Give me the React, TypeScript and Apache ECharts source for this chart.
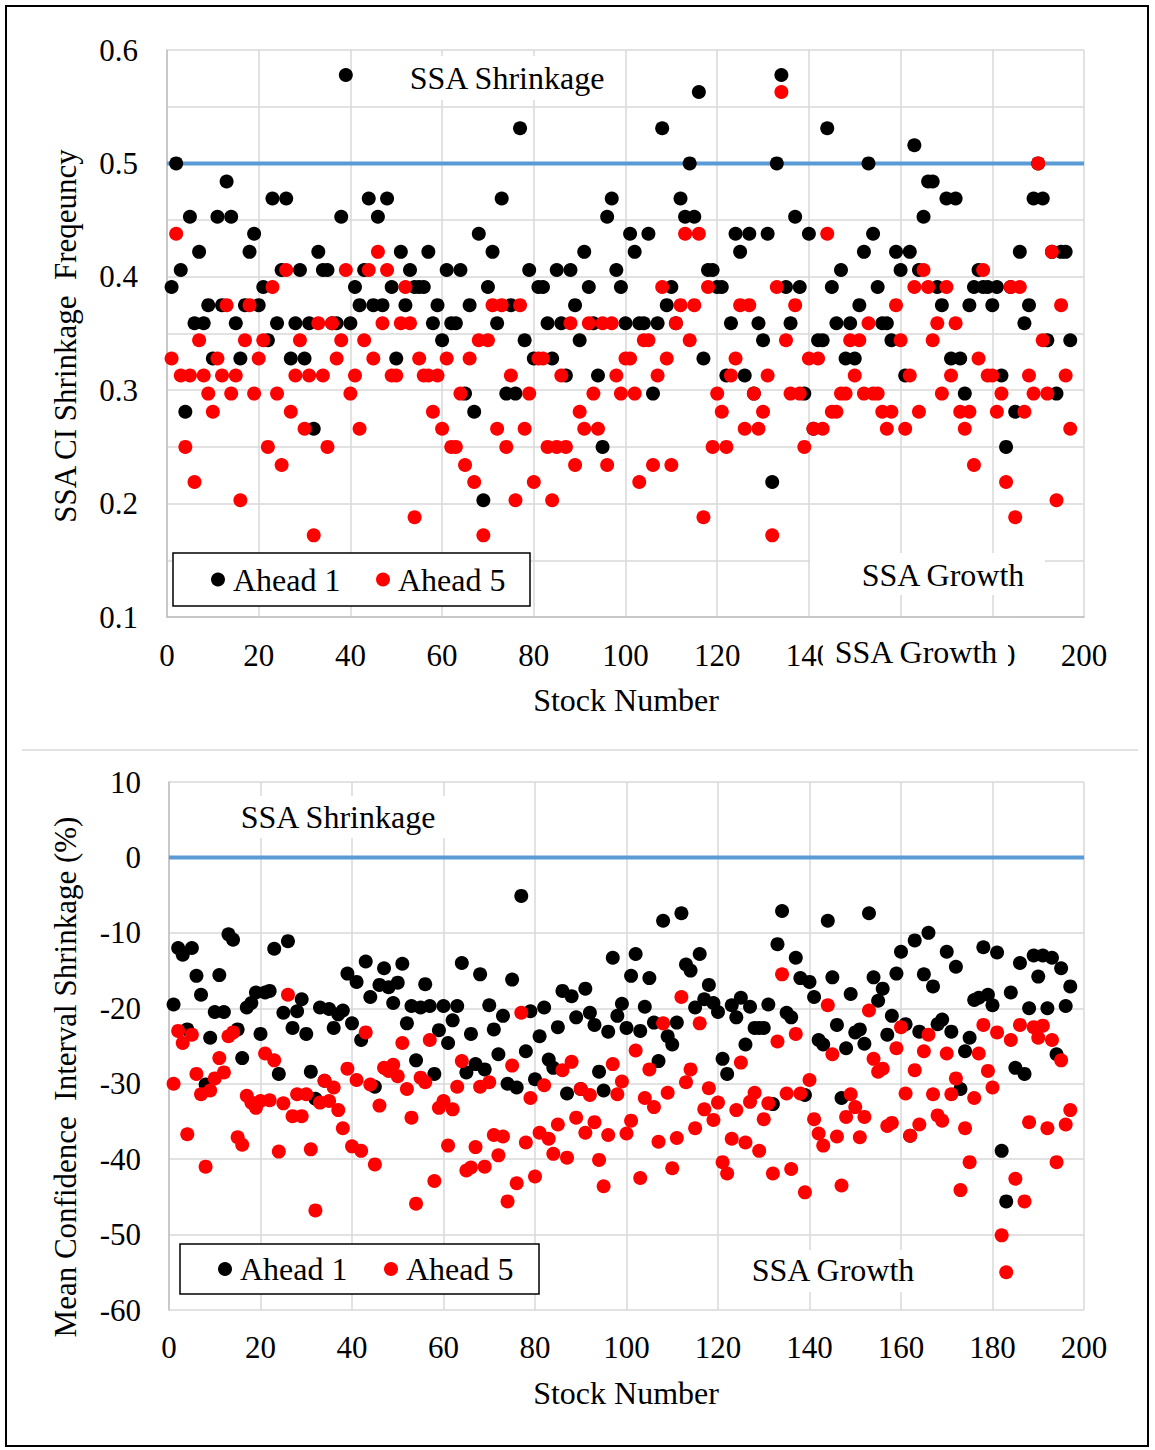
import React, { useEffect, useRef } from "react";
import * as echarts from "echarts";

const FONT = '"Liberation Serif", "Times New Roman", serif';

// Stock numbers run 1..197 (index + 1)
// Top panel: SSA CI shrinkage frequency
const freqAhead1 = [
  0.391, 0.5, 0.406, 0.281, 0.453, 0.359, 0.422, 0.359, 0.375, 0.328,
  0.453, 0.375, 0.484, 0.453, 0.359, 0.328, 0.375, 0.422, 0.438, 0.375,
  0.391, 0.344, 0.469, 0.359, 0.406, 0.469, 0.328, 0.359, 0.406, 0.328,
  0.359, 0.266, 0.422, 0.406, 0.406, 0.359, 0.359, 0.453, 0.578, 0.359,
  0.391, 0.375, 0.406, 0.469, 0.375, 0.453, 0.375, 0.469, 0.391, 0.328,
  0.422, 0.375, 0.406, 0.391, 0.391, 0.391, 0.422, 0.359, 0.375, 0.344,
  0.406, 0.359, 0.359, 0.406, 0.297, 0.375, 0.281, 0.438, 0.203, 0.391,
  0.422, 0.359, 0.469, 0.297, 0.375, 0.297, 0.531, 0.344, 0.406, 0.328,
  0.391, 0.391, 0.359, 0.328, 0.406, 0.359, 0.313, 0.406, 0.375, 0.344,
  0.422, 0.391, 0.359, 0.313, 0.25, 0.453, 0.469, 0.406, 0.391, 0.359,
  0.438, 0.422, 0.359, 0.359, 0.438, 0.297, 0.359, 0.531, 0.375, 0.391,
  0.359, 0.469, 0.453, 0.5, 0.453, 0.563, 0.328, 0.406, 0.406, 0.391,
  0.391, 0.313, 0.359, 0.438, 0.422, 0.313, 0.438, 0.297, 0.359, 0.344,
  0.438, 0.219, 0.5, 0.578, 0.391, 0.359, 0.453, 0.391, 0.297, 0.438,
  0.266, 0.344, 0.344, 0.531, 0.391, 0.359, 0.406, 0.328, 0.359, 0.328,
  0.375, 0.422, 0.5, 0.438, 0.391, 0.359, 0.359, 0.344, 0.422, 0.406,
  0.313, 0.422, 0.516, 0.406, 0.453, 0.484, 0.484, 0.391, 0.375, 0.469,
  0.328, 0.469, 0.328, 0.297, 0.375, 0.391, 0.406, 0.391, 0.391, 0.375,
  0.391, 0.313, 0.25, 0.391, 0.281, 0.422, 0.359, 0.375, 0.469, 0.5,
  0.469, 0.344, 0.422, 0.297, 0.422, 0.422, 0.344,
];
const freqAhead5 = [
  0.328, 0.438, 0.313, 0.25, 0.313, 0.219, 0.344, 0.313, 0.297, 0.281,
  0.328, 0.313, 0.375, 0.297, 0.313, 0.203, 0.344, 0.375, 0.297, 0.328,
  0.344, 0.25, 0.391, 0.297, 0.234, 0.406, 0.281, 0.313, 0.344, 0.266,
  0.313, 0.172, 0.359, 0.313, 0.25, 0.359, 0.328, 0.344, 0.406, 0.297,
  0.313, 0.266, 0.344, 0.406, 0.328, 0.422, 0.359, 0.406, 0.313, 0.313,
  0.359, 0.391, 0.359, 0.188, 0.328, 0.313, 0.313, 0.281, 0.313, 0.266,
  0.328, 0.25, 0.25, 0.297, 0.234, 0.328, 0.219, 0.344, 0.172, 0.344,
  0.375, 0.266, 0.375, 0.25, 0.313, 0.203, 0.375, 0.266, 0.297, 0.219,
  0.328, 0.328, 0.25, 0.203, 0.25, 0.313, 0.25, 0.359, 0.234, 0.281,
  0.266, 0.359, 0.297, 0.266, 0.359, 0.234, 0.359, 0.313, 0.297, 0.328,
  0.328, 0.297, 0.219, 0.344, 0.344, 0.234, 0.313, 0.391, 0.328, 0.234,
  0.359, 0.375, 0.438, 0.344, 0.375, 0.438, 0.188, 0.391, 0.25, 0.297,
  0.281, 0.25, 0.313, 0.328, 0.375, 0.266, 0.375, 0.297, 0.266, 0.281,
  0.313, 0.172, 0.391, 0.563, 0.344, 0.297, 0.375, 0.297, 0.25, 0.328,
  0.266, 0.328, 0.266, 0.438, 0.281, 0.281, 0.297, 0.297, 0.344, 0.313,
  0.344, 0.297, 0.359, 0.297, 0.297, 0.281, 0.266, 0.281, 0.375, 0.344,
  0.266, 0.313, 0.391, 0.281, 0.406, 0.391, 0.344, 0.359, 0.297, 0.391,
  0.313, 0.359, 0.281, 0.266, 0.281, 0.234, 0.328, 0.406, 0.313, 0.313,
  0.281, 0.297, 0.219, 0.391, 0.188, 0.391, 0.281, 0.313, 0.297, 0.5,
  0.344, 0.297, 0.422, 0.203, 0.375, 0.313, 0.266,
];
// Bottom panel: mean confidence interval shrinkage (%)
const meanAhead1 = [
  -19.5, -12.0, -12.9, -22.8, -12.0, -15.7, -18.2, -30.1, -23.9, -20.5,
  -15.6, -20.5, -10.2, -10.9, -22.8, -26.6, -19.9, -19.3, -17.9, -23.4,
  -17.9, -17.7, -12.1, -28.7, -20.6, -11.1, -22.6, -20.4, -18.8, -23.4,
  -28.4, -32.0, -19.9, -29.6, -20.1, -22.6, -20.8, -20.3, -15.4, -22.0,
  -16.5, -24.2, -13.8, -18.5, -30.4, -16.9, -14.7, -17.2, -19.3, -16.6,
  -14.1, -22.0, -19.7, -26.9, -19.9, -16.8, -19.7, -28.7, -22.9, -19.7,
  -24.6, -21.6, -19.7, -14.0, -28.5, -23.4, -27.4, -15.5, -28.1, -19.6,
  -22.8, -26.1, -21.0, -30.0, -16.2, -30.5, -5.1, -25.7, -20.4, -29.4,
  -23.7, -19.9, -26.8, -27.9, -22.5, -17.7, -31.3, -18.4, -21.2, -30.7,
  -17.4, -20.6, -22.2, -28.4, -30.9, -23.1, -13.3, -21.0, -19.4, -22.6,
  -15.7, -12.8, -23.0, -19.8, -16.0, -21.9, -27.0, -8.4, -23.7, -24.8,
  -21.9, -7.4, -14.2, -15.0, -19.9, -12.8, -18.8, -16.9, -19.3, -20.5,
  -26.7, -28.7, -19.6, -21.2, -18.6, -24.8, -19.8, -22.6, -22.6, -22.6,
  -19.5, -32.7, -11.5, -7.1, -20.6, -21.2, -13.3, -16.0, -31.5, -16.5,
  -18.5, -24.2, -24.8, -8.4, -15.9, -22.2, -31.9, -25.3, -18.1, -23.2,
  -22.8, -24.7, -7.4, -15.9, -19.0, -17.4, -23.5, -21.0, -15.4, -12.5,
  -22.1, -36.9, -11.0, -23.1, -15.5, -10.0, -17.1, -22.1, -21.5, -12.5,
  -23.1, -14.5, -30.7, -25.7, -23.9, -18.9, -18.6, -11.9, -18.2, -19.6,
  -12.6, -38.9, -45.6, -17.9, -27.9, -14.0, -28.7, -20.0, -13.0, -15.8,
  -13.0, -20.0, -13.3, -26.1, -14.7, -19.7, -17.1,
];
const meanAhead5 = [
  -30.0, -23.0, -24.6, -36.7, -23.5, -28.7, -31.4, -41.0, -30.9, -29.3,
  -26.6, -28.5, -23.7, -23.2, -37.1, -38.1, -31.6, -32.5, -33.2, -32.3,
  -26.0, -32.2, -26.9, -39.0, -32.6, -18.2, -34.3, -31.4, -34.3, -31.4,
  -38.7, -46.8, -32.5, -29.6, -32.3, -30.5, -33.5, -35.9, -28.0, -38.3,
  -29.5, -38.9, -23.2, -30.1, -40.7, -32.9, -27.9, -28.3, -27.5, -29.0,
  -24.6, -30.7, -34.5, -45.9, -29.2, -29.8, -24.2, -42.9, -33.2, -32.3,
  -38.2, -33.4, -30.4, -27.0, -41.5, -41.1, -38.4, -30.4, -41.0, -29.8,
  -36.8, -39.5, -37.0, -45.6, -27.6, -43.2, -20.6, -37.8, -31.9, -42.3,
  -36.5, -30.2, -37.3, -39.3, -35.4, -28.2, -39.8, -27.1, -34.5, -30.7,
  -36.5, -31.5, -35.1, -40.1, -43.6, -36.8, -27.4, -31.4, -29.7, -36.6,
  -34.9, -25.6, -42.5, -31.9, -28.1, -33.1, -37.7, -22.0, -31.2, -41.2,
  -37.2, -18.5, -29.8, -28.1, -35.9, -22.0, -33.4, -30.6, -34.8, -32.5,
  -40.4, -41.9, -37.3, -33.5, -27.2, -37.8, -32.4, -31.2, -38.9, -34.7,
  -32.6, -41.9, -24.4, -15.5, -31.3, -41.3, -23.4, -31.3, -44.4, -29.5,
  -34.7, -36.6, -38.2, -19.6, -26.1, -37.0, -43.5, -34.4, -31.4, -33.1,
  -37.1, -34.4, -20.3, -26.7, -28.4, -28.0, -35.6, -35.2, -25.3, -22.5,
  -31.3, -36.9, -28.2, -35.4, -25.7, -23.5, -31.4, -34.2, -34.9, -26.0,
  -31.4, -29.3, -44.1, -35.9, -40.4, -31.9, -26.0, -22.2, -28.3, -30.5,
  -23.2, -50.1, -55.0, -24.2, -42.6, -22.2, -45.6, -35.1, -22.5, -23.9,
  -22.3, -35.9, -24.2, -40.4, -26.9, -35.4, -33.5,
];

const freqThreshold = 0.5;
const meanThreshold = 0;
const xRange = [0, 200];

const BLACK = "#000000";
const RED = "#FF0000";
const BLUE = "#5B9BD5";
const GRID = "#D9D9D9";

const toPairs = (arr: number[]) => arr.map((v, i) => [i + 1, v]);

const txt = (text: string, x: number, y: number, size = 32, extra: any = {}) => ({
  type: "text",
  x,
  y,
  z: 100,
  ...extra,
  style: {
    text,
    fill: "#000",
    fontSize: size,
    fontFamily: FONT,
    align: "center",
    verticalAlign: "middle",
    ...(extra.style || {}),
  },
});

const whiteRect = (x: number, y: number, w: number, h: number) => ({
  type: "rect",
  z: 99,
  shape: { x, y, width: w, height: h },
  style: { fill: "#fff" },
});

const legendBox = (x: number, y: number, w: number, h: number, dx1: number, dx2: number) => {
  const cy = y + h / 2;
  return [
    {
      type: "rect",
      z: 99,
      shape: { x, y, width: w, height: h },
      style: { fill: "#fff", stroke: "#000", lineWidth: 1.5 },
    },
    { type: "circle", z: 100, shape: { cx: x + dx1, cy, r: 7 }, style: { fill: BLACK } },
    txt("Ahead 1", x + dx1 + 15, cy, 32, { style: { align: "left" } }),
    { type: "circle", z: 100, shape: { cx: x + dx2, cy, r: 7 }, style: { fill: RED } },
    txt("Ahead 5", x + dx2 + 15, cy, 32, { style: { align: "left" } }),
  ];
};

export default function App() {
  const ref = useRef<HTMLDivElement>(null);
  useEffect(() => {
    if (!ref.current) return;
    const chart = echarts.init(ref.current, undefined, { renderer: "svg" });
    const axisLabel = { fontFamily: FONT, fontSize: 31, color: "#000" };
    const xAxisCommon = {
      type: "value",
      min: xRange[0],
      max: xRange[1],
      interval: 20,
      axisLine: { show: true, lineStyle: { color: "#BFBFBF", width: 1.5 } },
      axisTick: { show: false },
      splitLine: { show: true, lineStyle: { color: GRID, width: 1.5 } },
    };
    const yAxisCommon = {
      type: "value",
      axisLine: { show: true, lineStyle: { color: "#BFBFBF", width: 1.5 } },
      axisTick: { show: false },
      splitLine: { show: true, lineStyle: { color: GRID, width: 1.5 } },
    };
    const scatterStyle = (color: string) => ({ color, opacity: 1 });
    const option: any = {
      animation: false,
      backgroundColor: "#fff",
      grid: [
        { left: 167, top: 50, width: 917, height: 567 },
        { left: 169, top: 782, width: 915, height: 528 },
      ],
      xAxis: [
        { ...xAxisCommon, gridIndex: 0, axisLabel: { ...axisLabel, margin: 23 } },
        { ...xAxisCommon, gridIndex: 1, axisLabel: { ...axisLabel, margin: 22 } },
      ],
      yAxis: [
        {
          ...yAxisCommon,
          gridIndex: 0,
          min: 0.1,
          max: 0.6,
          interval: 0.05,
          axisLabel: {
            ...axisLabel,
            margin: 29,
            formatter: (v: number) =>
              Math.round(v * 100) % 10 === 0 ? v.toFixed(1) : "",
          },
        },
        {
          ...yAxisCommon,
          gridIndex: 1,
          min: -60,
          max: 10,
          interval: 10,
          axisLabel: { ...axisLabel, margin: 28 },
        },
      ],
      series: [
        {
          type: "line",
          xAxisIndex: 0,
          yAxisIndex: 0,
          data: [
            [xRange[0], freqThreshold],
            [xRange[1], freqThreshold],
          ],
          symbol: "none",
          lineStyle: { color: BLUE, width: 4 },
          z: 1,
        },
        {
          name: "Ahead 1",
          type: "scatter",
          xAxisIndex: 0,
          yAxisIndex: 0,
          data: toPairs(freqAhead1),
          symbolSize: 14,
          itemStyle: scatterStyle(BLACK),
          z: 2,
        },
        {
          name: "Ahead 5",
          type: "scatter",
          xAxisIndex: 0,
          yAxisIndex: 0,
          data: toPairs(freqAhead5),
          symbolSize: 14,
          itemStyle: scatterStyle(RED),
          z: 3,
        },
        {
          type: "line",
          xAxisIndex: 1,
          yAxisIndex: 1,
          data: [
            [xRange[0], meanThreshold],
            [xRange[1], meanThreshold],
          ],
          symbol: "none",
          lineStyle: { color: BLUE, width: 4 },
          z: 1,
        },
        {
          name: "Ahead 1",
          type: "scatter",
          xAxisIndex: 1,
          yAxisIndex: 1,
          data: toPairs(meanAhead1),
          symbolSize: 14,
          itemStyle: scatterStyle(BLACK),
          z: 2,
        },
        {
          name: "Ahead 5",
          type: "scatter",
          xAxisIndex: 1,
          yAxisIndex: 1,
          data: toPairs(meanAhead5),
          symbolSize: 14,
          itemStyle: scatterStyle(RED),
          z: 3,
        },
      ],
      graphic: [
        {
          type: "rect",
          z: 100,
          shape: { x: 6, y: 6, width: 1142, height: 1440 },
          style: { fill: "none", stroke: "#000", lineWidth: 2 },
        },
        {
          type: "line",
          z: 100,
          shape: { x1: 22, y1: 750, x2: 1138, y2: 750 },
          style: { stroke: GRID, lineWidth: 1.5 },
        },
        // top panel annotations
        whiteRect(398, 56, 218, 44),
        txt("SSA Shrinkage", 507, 78),
        whiteRect(810, 553, 235, 42),
        txt("SSA Growth", 943, 575),
        whiteRect(823, 634, 185, 38),
        txt("SSA Growth", 916, 652),
        ...legendBox(173, 553, 357, 53, 45, 210),
        txt("SSA CI Shrinkage  Freqeuncy", 65, 336, 31, { rotation: Math.PI / 2 }),
        txt("Stock Number", 626, 700),
        // bottom panel annotations
        whiteRect(232, 796, 214, 42),
        txt("SSA Shrinkage", 338, 817),
        whiteRect(742, 1250, 182, 42),
        txt("SSA Growth", 833, 1270),
        ...legendBox(180, 1244, 359, 50, 45, 211),
        txt("Mean Confidence  Interval Shrinkage (%)", 65, 1077, 31, {
          rotation: Math.PI / 2,
        }),
        txt("Stock Number", 626, 1393),
      ],
    };
    chart.setOption(option);
    return () => chart.dispose();
  }, []);
  return (
    <div
      ref={ref}
      style={{
        position: "absolute",
        left: 0,
        top: 0,
        width: 1155,
        height: 1450,
        background: "#fff",
      }}
    />
  );
}
